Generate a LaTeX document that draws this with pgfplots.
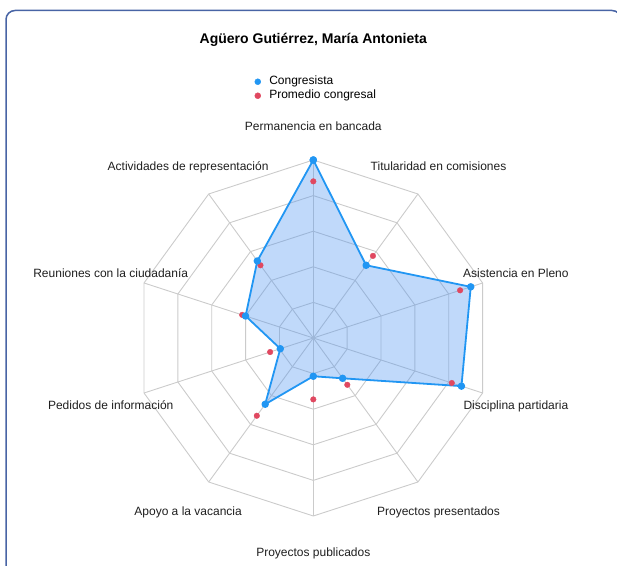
\documentclass[border=0pt]{standalone}
\usepackage{fontspec}
\setmainfont{Liberation Sans}
\usepackage{pgfplots}
\pgfplotsset{compat=1.18}
\pgfplotsset{legend image code/.code={\draw[mark repeat=2,mark phase=2,#1] plot coordinates {(0bp,0bp) (4bp,0bp) (8bp,0bp)};}}
\definecolor{cblue}{RGB}{33,150,243}
\definecolor{cred}{RGB}{224,72,96}
\definecolor{cfill}{RGB}{75,146,241}
\definecolor{cframe}{RGB}{72,100,165}
\definecolor{cgrid}{RGB}{203,203,203}
\begin{document}
\begin{tikzpicture}[x=1bp,y=1bp]
\useasboundingbox (0,0) rectangle (617,566);
\begin{scope}
\clip (0,0) rectangle (617,566);
\draw[cframe, line width=1.5bp, rounded corners=9bp] (6,-8) rectangle (621,555.5);
\end{scope}
\node[anchor=base, inner sep=0pt, font=\bfseries\fontsize{14bp}{16bp}\selectfont] at (313.3,522.5) {Agüero Gutiérrez, María Antonieta};
\begin{axis}[
  at={(313.3bp,228bp)}, anchor=center,
  x=1.78bp, y=1.78bp,
  xmin=-120, xmax=120, ymin=-120, ymax=120,
  hide axis, clip=false,
  legend style={draw=none, fill=none, at={(axis cs:-33.0,148)}, anchor=north west,
    font=\fontsize{12bp}{14bp}\selectfont, inner sep=0bp, row sep=0bp,
    nodes={inner sep=1bp, text height=8.5bp, text depth=3.5bp},
    /tikz/every odd column/.append style={column sep=7.5bp}},
  legend cell align=left,
]
% grid rings
\addplot[cgrid, line width=0.9bp, data cs=polar, forget plot] coordinates {(90,20) (54,20) (18,20) (-18,20) (-54,20) (-90,20) (-126,20) (-162,20) (162,20) (126,20) (90,20)};
\addplot[cgrid, line width=0.9bp, data cs=polar, forget plot] coordinates {(90,40) (54,40) (18,40) (-18,40) (-54,40) (-90,40) (-126,40) (-162,40) (162,40) (126,40) (90,40)};
\addplot[cgrid, line width=0.9bp, data cs=polar, forget plot] coordinates {(90,60) (54,60) (18,60) (-18,60) (-54,60) (-90,60) (-126,60) (-162,60) (162,60) (126,60) (90,60)};
\addplot[cgrid, line width=0.9bp, data cs=polar, forget plot] coordinates {(90,80) (54,80) (18,80) (-18,80) (-54,80) (-90,80) (-126,80) (-162,80) (162,80) (126,80) (90,80)};
\addplot[cgrid, line width=0.9bp, data cs=polar, forget plot] coordinates {(90,100) (54,100) (18,100) (-18,100) (-54,100) (-90,100) (-126,100) (-162,100) (162,100) (126,100) (90,100)};
% spokes
\addplot[cgrid, line width=0.9bp, data cs=polar, forget plot] coordinates {(90,0) (90,100)};
\addplot[cgrid, line width=0.9bp, data cs=polar, forget plot] coordinates {(54,0) (54,100)};
\addplot[cgrid, line width=0.9bp, data cs=polar, forget plot] coordinates {(18,0) (18,100)};
\addplot[cgrid, line width=0.9bp, data cs=polar, forget plot] coordinates {(-18,0) (-18,100)};
\addplot[cgrid, line width=0.9bp, data cs=polar, forget plot] coordinates {(-54,0) (-54,100)};
\addplot[cgrid, line width=0.9bp, data cs=polar, forget plot] coordinates {(-90,0) (-90,100)};
\addplot[cgrid, line width=0.9bp, data cs=polar, forget plot] coordinates {(-126,0) (-126,100)};
\addplot[cgrid, line width=0.9bp, data cs=polar, forget plot] coordinates {(-162,0) (-162,100)};
\addplot[cgrid, line width=0.9bp, data cs=polar, forget plot] coordinates {(162,0) (162,100)};
\addplot[cgrid, line width=0.9bp, data cs=polar, forget plot] coordinates {(126,0) (126,100)};
% Congresista fill
\addplot[draw=none, fill=cfill, fill opacity=0.35, data cs=polar, forget plot] coordinates {
 (90,100) (54,50.5) (18,93) (-18,87.5) (-54,28) (-90,21.5) (-126,46) (-162,19.5) (162,40) (126,53.5) (90,100)};
% Promedio congresal
\addplot[only marks, mark=*, mark size=2.8bp, cred, data cs=polar, forget plot] coordinates {
 (90,88) (54,57) (18,86.7) (-18,81.8) (-54,32.5) (-90,34.5) (-126,54) (-162,25.5) (162,42) (126,50.5)};
% Congresista line
\addplot[cblue, line width=1.8bp, line join=round, mark=*, mark size=2.8bp, data cs=polar, forget plot] coordinates {
 (90,100) (54,50.5) (18,93) (-18,87.5) (-54,28) (-90,21.5) (-126,46) (-162,19.5) (162,40) (126,53.5) (90,100)};
\addlegendimage{only marks, mark=*, mark size=3bp, cblue}
\addlegendentry{Congresista}
\addlegendimage{only marks, mark=*, mark size=3bp, cred}
\addlegendentry{Promedio congresal}
\end{axis}
\begin{scope}[shift={(313.3bp,228bp)}, lbl/.style={anchor=base, yshift=-5.3bp, inner sep=0pt, text=black!88, font=\fontsize{12bp}{14bp}\selectfont}]
\node[lbl] at (90:213bp) {Permanencia en bancada};
\node[lbl] at (54:213bp) {Titularidad en comisiones};
\node[lbl] at (18:213bp) {Asistencia en Pleno};
\node[lbl] at (-18:213bp) {Disciplina partidaria};
\node[lbl] at (-54:213bp) {Proyectos presentados};
\node[lbl] at (-90:213bp) {Proyectos publicados};
\node[lbl] at (-126:213bp) {Apoyo a la vacancia};
\node[lbl] at (-162:213bp) {Pedidos de información};
\node[lbl] at (162:213bp) {Reuniones con la ciudadanía};
\node[lbl] at (126:213bp) {Actividades de representación};
\end{scope}
\end{tikzpicture}
\end{document}
